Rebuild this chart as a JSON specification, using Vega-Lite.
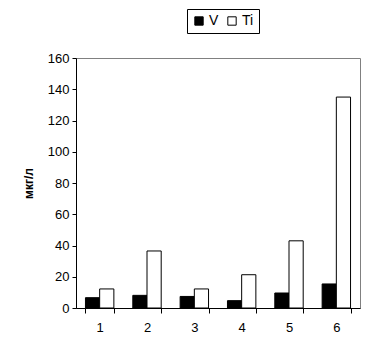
{
  "$schema": "https://vega.github.io/schema/vega-lite/v6.json",
  "width": 284,
  "height": 250,
  "autosize": {"type": "none"},
  "padding": {"left": 76, "top": 58, "right": 20, "bottom": 52},
  "background": "white",
  "config": {
    "font": "Liberation Sans",
    "view": {"stroke": "#808080", "strokeWidth": 1}
  },
  "data": {
    "values": [
      {"site": "1", "el": "V", "value": 6.6},
      {"site": "1", "el": "Ti", "value": 12.2},
      {"site": "2", "el": "V", "value": 8.1},
      {"site": "2", "el": "Ti", "value": 36.5},
      {"site": "3", "el": "V", "value": 7.4},
      {"site": "3", "el": "Ti", "value": 12.2},
      {"site": "4", "el": "V", "value": 4.7},
      {"site": "4", "el": "Ti", "value": 21.3},
      {"site": "5", "el": "V", "value": 9.6},
      {"site": "5", "el": "Ti", "value": 43},
      {"site": "6", "el": "V", "value": 15.4},
      {"site": "6", "el": "Ti", "value": 135}
    ]
  },
  "mark": {"type": "bar", "stroke": "black", "strokeWidth": 1},
  "encoding": {
    "x": {
      "field": "site", "type": "nominal",
      "scale": {"paddingInner": 0.4, "paddingOuter": 0.2},
      "axis": {
        "title": null, "labelAngle": 0, "labelFontSize": 13, "labelColor": "black",
        "labelPadding": 8, "tickBand": "extent", "tickSize": 5, "tickColor": "black",
        "domainColor": "black", "grid": false
      }
    },
    "xOffset": {"field": "el", "type": "nominal", "sort": ["V", "Ti"]},
    "y": {
      "field": "value", "type": "quantitative",
      "scale": {"domain": [0, 160]},
      "axis": {
        "title": "мкг/л", "titleFontSize": 12, "titleFontWeight": "bold", "titleColor": "black",
        "titlePadding": 12,
        "values": [0, 20, 40, 60, 80, 100, 120, 140, 160],
        "labelFontSize": 13, "labelColor": "black", "labelPadding": 3,
        "tickSize": 4, "tickColor": "black", "domainColor": "black", "grid": false
      }
    },
    "fill": {
      "field": "el", "type": "nominal", "sort": ["V", "Ti"],
      "scale": {"domain": ["V", "Ti"], "range": ["black", "white"]},
      "legend": {
        "title": null, "orient": "none", "direction": "horizontal",
        "legendX": 111, "legendY": -49,
        "strokeColor": "black", "padding": 5,
        "symbolType": "square", "symbolSize": 70, "symbolStrokeColor": "black", "symbolStrokeWidth": 1,
        "labelFontSize": 14, "labelColor": "black", "labelOffset": 3, "columnPadding": 6
      }
    }
  }
}
